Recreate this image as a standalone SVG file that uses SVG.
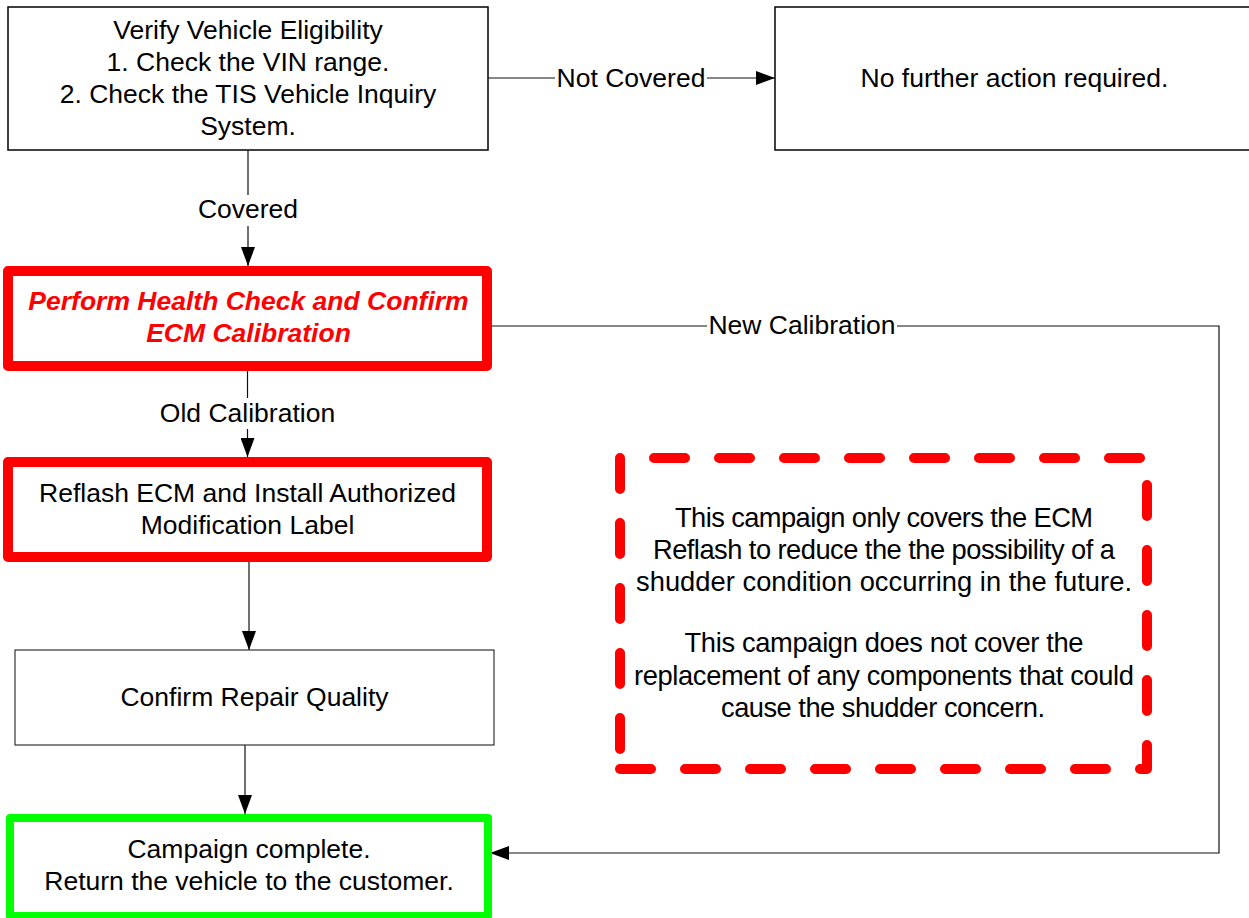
<svg xmlns="http://www.w3.org/2000/svg" width="1249" height="918" viewBox="0 0 1249 918">
<style>
  .t { font-family: "Liberation Sans", Arial, sans-serif; font-size: 26.5px; fill: #000; text-anchor: middle; }
  .note { font-size: 27.3px; }
  .bi { font-weight: bold; font-style: italic; fill: #ff0000; }
  .plain { fill: #fff; stroke: #111; stroke-width: 1.6; }
  .thin { fill: #fff; stroke: #333; stroke-width: 1.2; }
  .red { fill: #fff; stroke: #ff0000; stroke-width: 10; stroke-linejoin: round; }
  .green { fill: #fff; stroke: #00ff00; stroke-width: 8; stroke-linejoin: round; }
  .dash { fill: none; stroke: #ff0000; stroke-width: 10; stroke-linecap: round; stroke-linejoin: round; stroke-dasharray: 31 34; }
  .c { fill: none; stroke: #111; stroke-width: 1.2; }
</style>
<defs>
  <marker id="arr" markerUnits="userSpaceOnUse" markerWidth="19" markerHeight="14" refX="19" refY="7" orient="auto">
    <path d="M0,0 L19,7 L0,14 Z" fill="#000"/>
  </marker>
</defs>
<rect width="1249" height="918" fill="#fff"/>

<g id="connectors">
  <line class="c" x1="248" y1="150" x2="248" y2="195"/>
  <line class="c" x1="248" y1="226" x2="248" y2="266" marker-end="url(#arr)"/>
  <text class="t" x="248" y="218">Covered</text>

  <line class="c" x1="488" y1="78" x2="555" y2="78"/>
  <line class="c" x1="707" y1="78" x2="775" y2="78" marker-end="url(#arr)"/>
  <text class="t" x="631" y="87">Not Covered</text>

  <line class="c" x1="247.5" y1="371" x2="247.5" y2="398"/>
  <line class="c" x1="247.5" y1="429" x2="247.5" y2="457" marker-end="url(#arr)"/>
  <text class="t" x="247.5" y="422">Old Calibration</text>

  <line class="c" x1="492" y1="326" x2="707" y2="326"/>
  <polyline class="c" points="897,326 1219,326 1219,853 490,853" marker-end="url(#arr)"/>
  <text class="t" x="802" y="334">New Calibration</text>

  <line class="c" x1="249" y1="562" x2="249" y2="650" marker-end="url(#arr)"/>
  <line class="c" x1="245" y1="745" x2="245" y2="814" marker-end="url(#arr)"/>
</g>

<g id="verify">
  <rect class="plain" x="8" y="7" width="480" height="143"/>
  <text class="t" x="248" y="38.5">Verify Vehicle Eligibility</text>
  <text class="t" x="248" y="70.5">1. Check the VIN range.</text>
  <text class="t" x="248" y="102.5">2. Check the TIS Vehicle Inquiry</text>
  <text class="t" x="248" y="134.5">System.</text>
</g>

<g id="no-action">
  <rect class="plain" x="775" y="7" width="479" height="143"/>
  <text class="t" x="1014.5" y="87">No further action required.</text>
</g>

<g id="health-check">
  <rect class="red" x="8" y="271" width="479" height="95"/>
  <text class="t bi" x="248.5" y="310">Perform Health Check and Confirm</text>
  <text class="t bi" x="248.5" y="342">ECM Calibration</text>
</g>

<g id="reflash">
  <rect class="red" x="8" y="462" width="479" height="95"/>
  <text class="t" x="247.5" y="502">Reflash ECM and Install Authorized</text>
  <text class="t" x="247.5" y="534">Modification Label</text>
</g>

<g id="confirm">
  <rect class="thin" x="15" y="650" width="479" height="95"/>
  <text class="t" x="254.5" y="706">Confirm Repair Quality</text>
</g>

<g id="complete">
  <rect class="green" x="10" y="818" width="478" height="98"/>
  <text class="t" x="249" y="858">Campaign complete.</text>
  <text class="t" x="249" y="890">Return the vehicle to the customer.</text>
</g>

<g id="note">
  <path class="dash" d="M620,769 H1147 V458 H620 Z"/>
  <text class="t note" x="884" y="527" textLength="418">This campaign only covers the ECM</text>
  <text class="t note" x="884" y="559" textLength="462">Reflash to reduce the the possibility of a</text>
  <text class="t note" x="884" y="591" textLength="496">shudder condition occurring in the future.</text>
  <text class="t note" x="884" y="652" textLength="399">This campaign does not cover the</text>
  <text class="t note" x="884" y="685" textLength="500">replacement of any components that could</text>
  <text class="t note" x="883" y="717" textLength="324">cause the shudder concern.</text>
</g>
</svg>
